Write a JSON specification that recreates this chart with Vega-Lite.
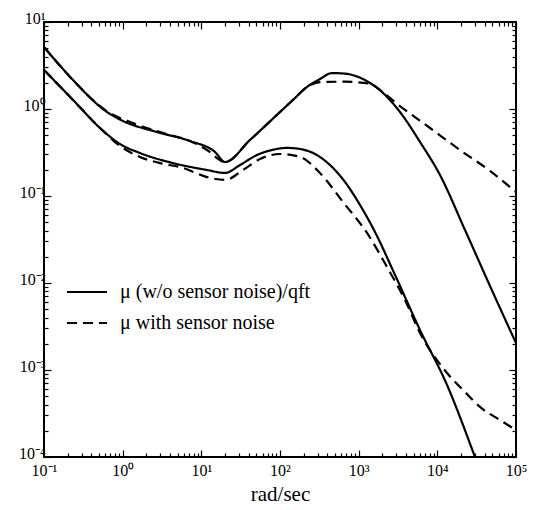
{
  "$schema": "https://vega.github.io/schema/vega-lite/v6.json",
  "width": 472,
  "height": 435,
  "autosize": {"type": "none"},
  "padding": {"left": 44, "top": 22, "right": 17, "bottom": 53},
  "background": "white",
  "config": {
    "view": {"stroke": "black", "strokeWidth": 2},
    "font": "Liberation Serif",
    "axis": {"domain": false, "grid": false, "labelFont": "Liberation Serif", "labelFontSize": 16, "labelColor": "black", "tickColor": "black", "tickWidth": 1.2, "titleFont": "Liberation Serif", "titleFontWeight": "normal", "titleColor": "black", "labelOverlap": false, "labelFlush": false}
  },
  "data": {
    "values": [
      {"c": "U", "series": "μ (w/o sensor noise)/qft", "x": 0.1, "y": 5.16},
      {"c": "U", "series": "μ (w/o sensor noise)/qft", "x": 0.234, "y": 2.15},
      {"c": "U", "series": "μ (w/o sensor noise)/qft", "x": 0.632, "y": 0.924},
      {"c": "U", "series": "μ (w/o sensor noise)/qft", "x": 1.01, "y": 0.728},
      {"c": "U", "series": "μ (w/o sensor noise)/qft", "x": 2.73, "y": 0.544},
      {"c": "U", "series": "μ (w/o sensor noise)/qft", "x": 7.18, "y": 0.428},
      {"c": "U", "series": "μ (w/o sensor noise)/qft", "x": 14.9, "y": 0.321},
      {"c": "U", "series": "μ (w/o sensor noise)/qft", "x": 20.0, "y": 0.246},
      {"c": "U", "series": "μ (w/o sensor noise)/qft", "x": 41.6, "y": 0.441},
      {"c": "U", "series": "μ (w/o sensor noise)/qft", "x": 100, "y": 0.924},
      {"c": "U", "series": "μ (w/o sensor noise)/qft", "x": 146, "y": 1.27},
      {"c": "U", "series": "μ (w/o sensor noise)/qft", "x": 220, "y": 1.79},
      {"c": "U", "series": "μ (w/o sensor noise)/qft", "x": 322, "y": 2.21},
      {"c": "U", "series": "μ (w/o sensor noise)/qft", "x": 458, "y": 2.59},
      {"c": "U", "series": "μ (w/o sensor noise)/qft", "x": 670, "y": 2.55},
      {"c": "U", "series": "μ (w/o sensor noise)/qft", "x": 1202, "y": 2.15},
      {"c": "U", "series": "μ (w/o sensor noise)/qft", "x": 2037, "y": 1.53},
      {"c": "U", "series": "μ (w/o sensor noise)/qft", "x": 3350, "y": 0.924},
      {"c": "U", "series": "μ (w/o sensor noise)/qft", "x": 6025, "y": 0.418},
      {"c": "U", "series": "μ (w/o sensor noise)/qft", "x": 10820, "y": 0.174},
      {"c": "U", "series": "μ (w/o sensor noise)/qft", "x": 22500, "y": 0.0406},
      {"c": "U", "series": "μ (w/o sensor noise)/qft", "x": 46700, "y": 0.00925},
      {"c": "U", "series": "μ (w/o sensor noise)/qft", "x": 100000, "y": 0.00204},

      {"c": "UD", "series": "μ with sensor noise", "x": 0.1, "y": 5.16},
      {"c": "UD", "series": "μ with sensor noise", "x": 0.234, "y": 2.15},
      {"c": "UD", "series": "μ with sensor noise", "x": 0.632, "y": 0.94},
      {"c": "UD", "series": "μ with sensor noise", "x": 1.35, "y": 0.69},
      {"c": "UD", "series": "μ with sensor noise", "x": 2.43, "y": 0.574},
      {"c": "UD", "series": "μ with sensor noise", "x": 4.0, "y": 0.502},
      {"c": "UD", "series": "μ with sensor noise", "x": 7.18, "y": 0.43},
      {"c": "UD", "series": "μ with sensor noise", "x": 11.8, "y": 0.338},
      {"c": "UD", "series": "μ with sensor noise", "x": 20.0, "y": 0.246},
      {"c": "UD", "series": "μ with sensor noise", "x": 41.6, "y": 0.441},
      {"c": "UD", "series": "μ with sensor noise", "x": 100, "y": 0.924},
      {"c": "UD", "series": "μ with sensor noise", "x": 146, "y": 1.27},
      {"c": "UD", "series": "μ with sensor noise", "x": 220, "y": 1.79},
      {"c": "UD", "series": "μ with sensor noise", "x": 322, "y": 2.04},
      {"c": "UD", "series": "μ with sensor noise", "x": 670, "y": 2.06},
      {"c": "UD", "series": "μ with sensor noise", "x": 1393, "y": 1.95},
      {"c": "UD", "series": "μ with sensor noise", "x": 2037, "y": 1.55},
      {"c": "UD", "series": "μ with sensor noise", "x": 3350, "y": 1.08},
      {"c": "UD", "series": "μ with sensor noise", "x": 8070, "y": 0.605},
      {"c": "UD", "series": "μ with sensor noise", "x": 19400, "y": 0.338},
      {"c": "UD", "series": "μ with sensor noise", "x": 46700, "y": 0.194},
      {"c": "UD", "series": "μ with sensor noise", "x": 100000, "y": 0.111},

      {"c": "L", "series": "μ (w/o sensor noise)/qft", "x": 0.1, "y": 2.81},
      {"c": "L", "series": "μ (w/o sensor noise)/qft", "x": 0.234, "y": 1.27},
      {"c": "L", "series": "μ (w/o sensor noise)/qft", "x": 0.515, "y": 0.605},
      {"c": "L", "series": "μ (w/o sensor noise)/qft", "x": 0.925, "y": 0.396},
      {"c": "L", "series": "μ (w/o sensor noise)/qft", "x": 1.66, "y": 0.312},
      {"c": "L", "series": "μ (w/o sensor noise)/qft", "x": 4.36, "y": 0.239},
      {"c": "L", "series": "μ (w/o sensor noise)/qft", "x": 11.8, "y": 0.199},
      {"c": "L", "series": "μ (w/o sensor noise)/qft", "x": 20.0, "y": 0.184},
      {"c": "L", "series": "μ (w/o sensor noise)/qft", "x": 31.0, "y": 0.227},
      {"c": "L", "series": "μ (w/o sensor noise)/qft", "x": 51, "y": 0.296},
      {"c": "L", "series": "μ (w/o sensor noise)/qft", "x": 79, "y": 0.338},
      {"c": "L", "series": "μ (w/o sensor noise)/qft", "x": 123, "y": 0.357},
      {"c": "L", "series": "μ (w/o sensor noise)/qft", "x": 180, "y": 0.347},
      {"c": "L", "series": "μ (w/o sensor noise)/qft", "x": 279, "y": 0.304},
      {"c": "L", "series": "μ (w/o sensor noise)/qft", "x": 432, "y": 0.227},
      {"c": "L", "series": "μ (w/o sensor noise)/qft", "x": 670, "y": 0.145},
      {"c": "L", "series": "μ (w/o sensor noise)/qft", "x": 1040, "y": 0.0788},
      {"c": "L", "series": "μ (w/o sensor noise)/qft", "x": 1612, "y": 0.0386},
      {"c": "L", "series": "μ (w/o sensor noise)/qft", "x": 2896, "y": 0.0124},
      {"c": "L", "series": "μ (w/o sensor noise)/qft", "x": 6025, "y": 0.00288},
      {"c": "L", "series": "μ (w/o sensor noise)/qft", "x": 13280, "y": 0.000673},
      {"c": "L", "series": "μ (w/o sensor noise)/qft", "x": 30100, "y": 0.0001},
      {"c": "L", "series": "μ (w/o sensor noise)/qft", "x": 33000, "y": 0.00008},

      {"c": "LD", "series": "μ with sensor noise", "x": 0.1, "y": 2.81},
      {"c": "LD", "series": "μ with sensor noise", "x": 0.234, "y": 1.27},
      {"c": "LD", "series": "μ with sensor noise", "x": 0.515, "y": 0.605},
      {"c": "LD", "series": "μ with sensor noise", "x": 0.925, "y": 0.376},
      {"c": "LD", "series": "μ with sensor noise", "x": 1.66, "y": 0.281},
      {"c": "LD", "series": "μ with sensor noise", "x": 2.98, "y": 0.239},
      {"c": "LD", "series": "μ with sensor noise", "x": 5.85, "y": 0.21},
      {"c": "LD", "series": "μ with sensor noise", "x": 11.8, "y": 0.165},
      {"c": "LD", "series": "μ with sensor noise", "x": 20.0, "y": 0.153},
      {"c": "LD", "series": "μ with sensor noise", "x": 33.9, "y": 0.199},
      {"c": "LD", "series": "μ with sensor noise", "x": 55.7, "y": 0.266},
      {"c": "LD", "series": "μ with sensor noise", "x": 100, "y": 0.304},
      {"c": "LD", "series": "μ with sensor noise", "x": 180, "y": 0.281},
      {"c": "LD", "series": "μ with sensor noise", "x": 322, "y": 0.184},
      {"c": "LD", "series": "μ with sensor noise", "x": 632, "y": 0.0853},
      {"c": "LD", "series": "μ with sensor noise", "x": 1277, "y": 0.0376},
      {"c": "LD", "series": "μ with sensor noise", "x": 2291, "y": 0.0153},
      {"c": "LD", "series": "μ with sensor noise", "x": 3880, "y": 0.00638},
      {"c": "LD", "series": "μ with sensor noise", "x": 6025, "y": 0.00266},
      {"c": "LD", "series": "μ with sensor noise", "x": 13280, "y": 0.000925},
      {"c": "LD", "series": "μ with sensor noise", "x": 22500, "y": 0.000558},
      {"c": "LD", "series": "μ with sensor noise", "x": 34850, "y": 0.000376},
      {"c": "LD", "series": "μ with sensor noise", "x": 62500, "y": 0.000266},
      {"c": "LD", "series": "μ with sensor noise", "x": 100000, "y": 0.000204}
    ]
  },
  "layer": [
    {
      "mark": {"type": "line", "strokeWidth": 2.2, "color": "black", "clip": true, "interpolate": "monotone"},
      "encoding": {
        "x": {
          "field": "x", "type": "quantitative",
          "scale": {"type": "log", "domain": [0.1, 100000], "nice": false},
          "axis": {
            "orient": "bottom",
            "values": [0.1,0.2,0.3,0.4,0.5,0.6,0.7,0.8,0.9,1,2,3,4,5,6,7,8,9,10,20,30,40,50,60,70,80,90,100,200,300,400,500,600,700,800,900,1000,2000,3000,4000,5000,6000,7000,8000,9000,10000,20000,30000,40000,50000,60000,70000,80000,90000,100000],
            "labelExpr": "abs(log(datum.value)/LN10 - round(log(datum.value)/LN10)) < 0.001 ? '10' + ['⁻⁴','⁻³','⁻²','⁻¹','⁰','¹','²','³','⁴','⁵'][round(log(datum.value)/LN10)+4] : ''",
            "tickSize": {"condition": {"test": "abs(log(datum.value)/LN10 - round(log(datum.value)/LN10)) < 0.001", "value": -7}, "value": -4},
            "labelPadding": 12,
            "title": "rad/sec",
            "titleFontSize": 21,
            "titlePadding": 2
          }
        },
        "y": {
          "field": "y", "type": "quantitative",
          "scale": {"type": "log", "domain": [0.0001, 10], "nice": false},
          "axis": {
            "orient": "left",
            "values": [0.0001,0.0002,0.0003,0.0004,0.0005,0.0006,0.0007,0.0008,0.0009,0.001,0.002,0.003,0.004,0.005,0.006,0.007,0.008,0.009,0.01,0.02,0.03,0.04,0.05,0.06,0.07,0.08,0.09,0.1,0.2,0.3,0.4,0.5,0.6,0.7,0.8,0.9,1,2,3,4,5,6,7,8,9,10],
            "labelExpr": "abs(log(datum.value)/LN10 - round(log(datum.value)/LN10)) < 0.001 ? '10' + ['⁻⁴','⁻³','⁻²','⁻¹','⁰','¹','²','³','⁴','⁵'][round(log(datum.value)/LN10)+4] : ''",
            "tickSize": {"condition": {"test": "abs(log(datum.value)/LN10 - round(log(datum.value)/LN10)) < 0.001", "value": -7}, "value": -4},
            "labelPadding": 6,
            "labelBaseline": "bottom",
            "labelOffset": 4,
            "title": null
          }
        },
        "detail": {"field": "c", "type": "nominal"},
        "strokeDash": {
          "field": "series", "type": "nominal",
          "scale": {"domain": ["μ (w/o sensor noise)/qft", "μ with sensor noise"], "range": [[1, 0], [10, 6]]},
          "legend": {
            "orient": "none", "legendX": 22, "legendY": 249, "title": null,
            "symbolType": "stroke", "symbolSize": 1600, "symbolStrokeWidth": 2, "symbolStrokeColor": "black",
            "labelFont": "Liberation Serif", "labelFontSize": 20, "labelColor": "black", "labelOffset": 12,
            "rowPadding": -11, "labelLimit": 400
          }
        }
      }
    },
    {
      "mark": {"type": "line", "strokeOpacity": 0, "color": "black"},
      "encoding": {
        "x": {
          "field": "x", "type": "quantitative",
          "axis": {
            "orient": "top",
            "values": [0.1,0.2,0.3,0.4,0.5,0.6,0.7,0.8,0.9,1,2,3,4,5,6,7,8,9,10,20,30,40,50,60,70,80,90,100,200,300,400,500,600,700,800,900,1000,2000,3000,4000,5000,6000,7000,8000,9000,10000,20000,30000,40000,50000,60000,70000,80000,90000,100000],
            "labels": false,
            "tickSize": {"condition": {"test": "abs(log(datum.value)/LN10 - round(log(datum.value)/LN10)) < 0.001", "value": -7}, "value": -4},
            "title": null
          }
        },
        "y": {
          "field": "y", "type": "quantitative",
          "axis": {
            "orient": "right",
            "values": [0.0001,0.0002,0.0003,0.0004,0.0005,0.0006,0.0007,0.0008,0.0009,0.001,0.002,0.003,0.004,0.005,0.006,0.007,0.008,0.009,0.01,0.02,0.03,0.04,0.05,0.06,0.07,0.08,0.09,0.1,0.2,0.3,0.4,0.5,0.6,0.7,0.8,0.9,1,2,3,4,5,6,7,8,9,10],
            "labels": false,
            "tickSize": {"condition": {"test": "abs(log(datum.value)/LN10 - round(log(datum.value)/LN10)) < 0.001", "value": -7}, "value": -4},
            "title": null
          }
        },
        "detail": {"field": "c", "type": "nominal"}
      }
    }
  ],
  "resolve": {"axis": {"x": "independent", "y": "independent"}}
}
